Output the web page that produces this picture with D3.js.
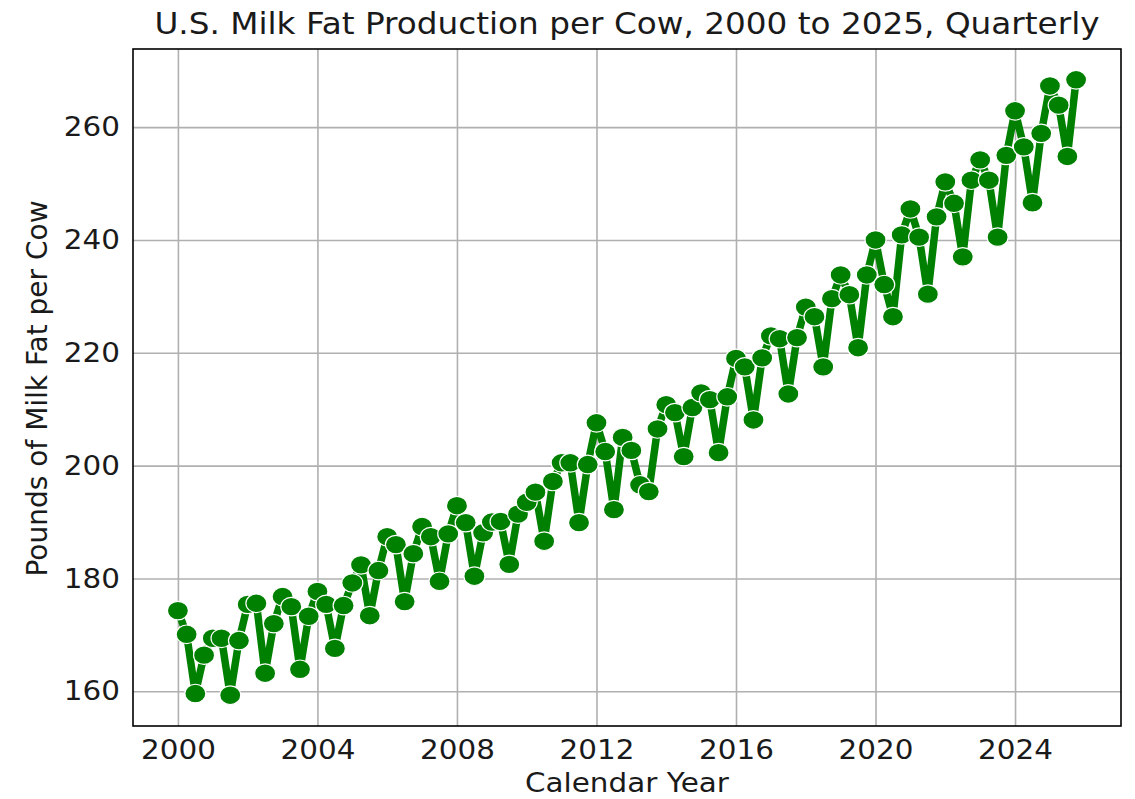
<!DOCTYPE html>
<html>
<head>
<meta charset="utf-8">
<script src="https://cdn.jsdelivr.net/npm/d3@7"></script>
<style>
  body { margin: 0; background: #fff; }
  text { font-family: 'DejaVu Sans', sans-serif; }
</style>
</head>
<body>
<div id="chart"></div>
<script>
// Calendar years covered by the series
var years = [2000, 2001, 2002, 2003, 2004, 2005, 2006, 2007, 2008, 2009,
             2010, 2011, 2012, 2013, 2014, 2015, 2016, 2017, 2018, 2019,
             2020, 2021, 2022, 2023, 2024, 2025];

// Quarter labels, four per year
var quarters = ['Q1', 'Q2', 'Q3', 'Q4'];

// Pounds of milk fat per cow, one value per quarter, read year by year
var fatPerCow = [
    174.3, 170.1, 159.6, 166.4,
    169.4, 169.4, 159.3, 169.0,
    175.4, 175.6, 163.2, 172.0,
    176.8, 175.0, 163.9, 173.3,
    177.7, 175.4, 167.6, 175.2,
    179.2, 182.4, 173.4, 181.4,
    187.4, 186.0, 175.9, 184.4,
    189.2, 187.4, 179.5, 187.9,
    192.9, 189.9, 180.4, 188.1,
    190.0, 190.1, 182.5, 191.4,
    193.5, 195.3, 186.6, 197.2,
    200.5, 200.5, 189.9, 200.2,
    207.6, 202.5, 192.2, 205.0,
    202.7, 196.6, 195.4, 206.5,
    210.8, 209.4, 201.6, 210.3,
    212.9, 211.7, 202.3, 212.2,
    219.0, 217.5, 208.1, 219.1,
    223.0, 222.5, 212.7, 222.7,
    228.1, 226.4, 217.5, 229.6,
    233.8, 230.3, 220.9, 233.8,
    240.0, 232.1, 226.4, 240.9,
    245.5, 240.5, 230.4, 244.1,
    250.3, 246.5, 237.0, 250.6,
    254.2, 250.6, 240.5, 255.0,
    262.9, 256.5, 246.6, 258.9,
    267.3, 263.9, 254.8, 268.4
];

// Tick values on both axes
var xTicks = [2000, 2004, 2008, 2012, 2016, 2020, 2024];
var yTicks = [160, 180, 200, 220, 240, 260];

// Chart text
var titleText = 'U.S. Milk Fat Production per Cow, 2000 to 2025, Quarterly';
var xLabelText = 'Calendar Year';
var yLabelText = 'Pounds of Milk Fat per Cow';

// Build the table of points: decimal year and value
var dataSet = [];
years.forEach(function(yr, i) {
    quarters.forEach(function(q, j) {
        dataSet.push({ t: yr + j / 4, value: fatPerCow[i * 4 + j] });
    });
});

var fullWidth = 1135,
    fullHeight = 799,
    margin = { top: 49, right: 14, bottom: 73, left: 133 },
    width = fullWidth - margin.left - margin.right,
    height = fullHeight - margin.top - margin.bottom,
    green = '#008000',
    textColor = '#1a1a1a',
    // the reference text is a little wider than the plain font
    stretch = 'scale(1.09,1)';

var svg = d3.select('#chart')
    .append('svg')
    .attr('width', fullWidth)
    .attr('height', fullHeight);

var chart = svg.append('g')
    .attr('transform', 'translate(' + margin.left + ',' + margin.top + ')');

// Pad the data range by 5% on each side, like the default plot margins
function padded(ext) {
    var pad = (ext[1] - ext[0]) * 0.05;
    return [ext[0] - pad, ext[1] + pad];
}

var xScale = d3.scaleLinear()
    .domain(padded(d3.extent(dataSet, function(d) { return d.t; })))
    .range([0, width]);

var yScale = d3.scaleLinear()
    .domain(padded(d3.extent(dataSet, function(d) { return d.value; })))
    .range([height, 0]);

// Grid lines
chart.append('g')
    .attr('transform', 'translate(0,' + height + ')')
    .call(d3.axisBottom(xScale).tickValues(xTicks).tickSize(-height).tickFormat(''))
    .call(function(g) {
        g.select('.domain').remove();
        g.selectAll('line').attr('stroke', '#b0b0b0').attr('stroke-width', 1.6);
    });

chart.append('g')
    .call(d3.axisLeft(yScale).tickValues(yTicks).tickSize(-width).tickFormat(''))
    .call(function(g) {
        g.select('.domain').remove();
        g.selectAll('line').attr('stroke', '#b0b0b0').attr('stroke-width', 1.6);
    });

// Tick labels
chart.append('g')
    .attr('transform', 'translate(0,' + height + ')')
    .call(d3.axisBottom(xScale).tickValues(xTicks).tickSize(0).tickPadding(14).tickFormat(d3.format('d')))
    .call(function(g) {
        g.select('.domain').remove();
        g.selectAll('text').attr('font-size', '27px').attr('fill', textColor)
            .attr('font-family', "'DejaVu Sans', sans-serif")
            .attr('transform', stretch);
    });

chart.append('g')
    .call(d3.axisLeft(yScale).tickValues(yTicks).tickSize(0).tickPadding(12).tickFormat(d3.format('d')))
    .call(function(g) {
        g.select('.domain').remove();
        g.selectAll('text').attr('font-size', '27px').attr('fill', textColor)
            .attr('font-family', "'DejaVu Sans', sans-serif")
            .attr('transform', stretch);
    });

// The line
var line = d3.line()
    .x(function(d) { return xScale(d.t); })
    .y(function(d) { return yScale(d.value); });

chart.append('path')
    .datum(dataSet)
    .attr('d', line)
    .attr('fill', 'none')
    .attr('stroke', green)
    .attr('stroke-width', 7.5)
    .attr('stroke-linejoin', 'round');

// The markers, drawn on top of the line
chart.selectAll('ellipse.pt')
    .data(dataSet)
    .enter()
    .append('ellipse')
    .classed('pt', true)
    .attr('cx', function(d) { return xScale(d.t); })
    .attr('cy', function(d) { return yScale(d.value); })
    .attr('rx', 10.5)
    .attr('ry', 9.3)
    .attr('fill', green)
    .attr('stroke', '#fff')
    .attr('stroke-width', 1.2);

// Frame
chart.append('rect')
    .attr('width', width)
    .attr('height', height)
    .attr('fill', 'none')
    .attr('stroke', '#000')
    .attr('stroke-width', 1.6);

// Title and axis labels
svg.append('text')
    .attr('transform', 'translate(' + (margin.left + width / 2) + ',34) ' + stretch)
    .attr('text-anchor', 'middle')
    .attr('font-size', '30px')
    .attr('fill', textColor)
    .text(titleText);

svg.append('text')
    .attr('transform', 'translate(' + (margin.left + width / 2) + ',792) ' + stretch)
    .attr('text-anchor', 'middle')
    .attr('font-size', '27px')
    .attr('fill', textColor)
    .text(xLabelText);

svg.append('text')
    .attr('transform', 'translate(47,' + (margin.top + height / 2 + 1) + ') rotate(-90)')
    .attr('text-anchor', 'middle')
    .attr('font-size', '28px')
    .attr('fill', textColor)
    .text(yLabelText);
</script>
</body>
</html>
